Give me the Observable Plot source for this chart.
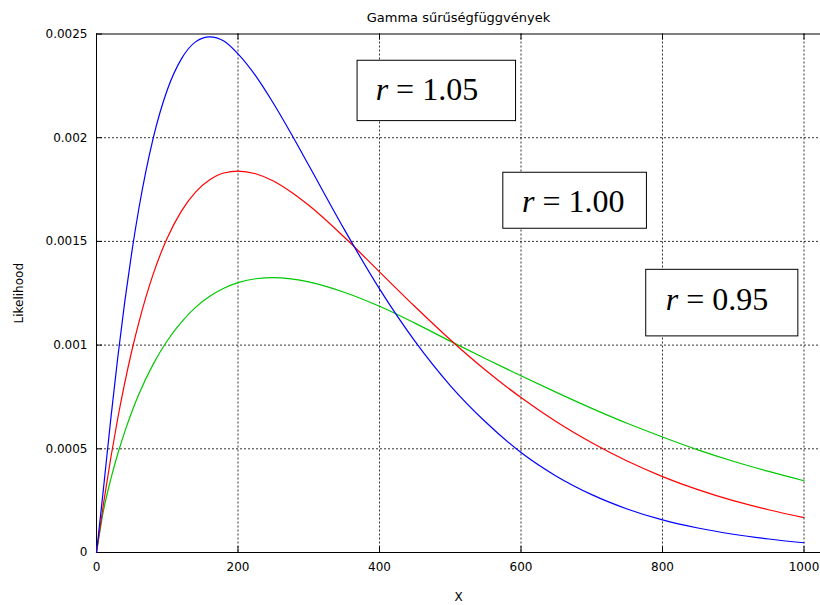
<!DOCTYPE html>
<html>
<head>
<meta charset="utf-8">
<script src="https://cdn.jsdelivr.net/npm/d3@7"></script>
<script src="https://cdn.jsdelivr.net/npm/@observablehq/plot@0.6"></script>
<style>
  html, body { margin: 0; padding: 0; background: #fff; }
  #chart { width: 820px; height: 605px; overflow: hidden; }
</style>
</head>
<body>
<div id="chart"></div>
<script>
// ---------- data ----------
const title = "Gamma sűrűségfüggvények";
const xLabel = "X";
const yLabel = "Likelihood";

const xs = [0, 10, 20, 30, 40, 50, 60, 80, 100, 120, 140, 160, 180, 200, 225, 250, 275, 300,
            350, 400, 450, 500, 550, 600, 650, 700, 750, 800, 850, 900, 950, 1000];

// r = 1.05 (blue)
const blueY = [0, 0.000313, 0.000638, 0.000939, 0.001211, 0.001451, 0.001661, 0.001996, 0.002230,
               0.002380, 0.002462, 0.002486, 0.002466, 0.002404, 0.002298, 0.002166, 0.002020, 0.001867,
               0.001559, 0.001271, 0.001019, 0.000805, 0.000629, 0.000482, 0.000368, 0.000279,
               0.000210, 0.000157, 0.000118, 0.000088, 0.000065, 0.000047];

// r = 1.00 (red)
const redY = [0, 0.000238, 0.000452, 0.000646, 0.000819, 0.000974, 0.001111, 0.001341, 0.001516,
              0.001646, 0.001738, 0.001797, 0.001830, 0.001839, 0.001826, 0.001791, 0.001738, 0.001674,
              0.001521, 0.001353, 0.001186, 0.001026, 0.000879, 0.000747, 0.000630, 0.000529,
              0.000441, 0.000366, 0.000303, 0.000250, 0.000206, 0.000168];

// r = 0.95 (green)
const greenY = [0, 0.000204, 0.000351, 0.000475, 0.000583, 0.000679, 0.000764, 0.000907, 0.001021,
                0.001111, 0.001182, 0.001235, 0.001274, 0.001301, 0.001320, 0.001325, 0.001319, 0.001305,
                0.001255, 0.001187, 0.001106, 0.001019, 0.000934, 0.000852, 0.000772, 0.000695,
                0.000623, 0.000557, 0.000495, 0.000440, 0.000391, 0.000346];

const xTicks = [0, 200, 400, 600, 800, 1000];
const xTickLabels = ["0", "200", "400", "600", "800", "1000"];
const yTicks = [0, 0.0005, 0.001, 0.0015, 0.002, 0.0025];
const yTickLabels = ["0", "0.0005", "0.001", "0.0015", "0.002", "0.0025"];

// annotation boxes (data coordinates)
const boxLabels = ["r = 1.05", "r = 1.00", "r = 0.95"];
const boxX1 = [369, 575, 777];
const boxX2 = [593, 778, 992];
const boxYLo = [0.002080, 0.001561, 0.001042];
const boxYHi = [0.002371, 0.001831, 0.001363];
const labelX = [467, 674, 877];
const labelY = [0.002231, 0.001689, 0.001218];

// ---------- tables built from the arrays ----------
const rows = xs.map((x, i) => ({x, blue: blueY[i], red: redY[i], green: greenY[i]}));
const boxes = boxLabels.map((label, i) => ({
  label, x1: boxX1[i], x2: boxX2[i], ylo: boxYLo[i], yhi: boxYHi[i], tx: labelX[i], ty: labelY[i]
}));

// ---------- layout ----------
const W = 820, H = 605, mL = 96, mT = 33.5, mB = 53, mR = 0;
const frameH = H - mT - mB;
const frameW = W - mL - mR;
const tickLen = 6;
const grid = {stroke: "#000", strokeOpacity: 0.8, strokeDasharray: "2,2", strokeWidth: 1};

const plot = Plot.plot({
  width: W,
  height: H,
  marginLeft: mL,
  marginRight: mR,
  marginTop: mT,
  marginBottom: mB,
  style: {fontFamily: "DejaVu Sans", fontSize: "12px", background: "#fff", color: "#000", overflow: "hidden"},
  x: {domain: [0, 1000], range: [mL, 803.5]},
  y: {domain: [0, 0.0025]},
  marks: [
    // dotted grid
    Plot.ruleX(xTicks.slice(1), {x: d => d, ...grid}),
    Plot.ruleY(yTicks.slice(1, -1), {y: d => d, ...grid}),
    // border (left, bottom, top)
    Plot.ruleX([xTicks[0]], {x: d => d, stroke: "#000", strokeWidth: 1}),
    Plot.ruleY([yTicks[0]], {y: d => d, stroke: "#000", strokeWidth: 1}),
    Plot.ruleY([yTicks[yTicks.length - 1]], {y: d => d, stroke: "#000", strokeWidth: 1}),
    // inward ticks
    Plot.ruleX(xTicks, {x: d => d, insetTop: frameH - tickLen, stroke: "#000"}),
    Plot.ruleX(xTicks, {x: d => d, insetBottom: frameH - tickLen, stroke: "#000"}),
    Plot.ruleY(yTicks, {y: d => d, insetRight: frameW - tickLen, stroke: "#000"}),
    // curves
    Plot.line(rows, {x: "x", y: "green", stroke: "#00c800", strokeWidth: 1.2, curve: "monotone-x"}),
    Plot.line(rows, {x: "x", y: "red", stroke: "#ff0000", strokeWidth: 1.2, curve: "monotone-x"}),
    Plot.line(rows, {x: "x", y: "blue", stroke: "#0000ff", strokeWidth: 1.2, curve: "monotone-x"}),
    // annotation boxes
    Plot.rect(boxes, {x1: "x1", x2: "x2", y1: "ylo", y2: "yhi", fill: "#fff", stroke: "#000", strokeWidth: 1}),
    Plot.text(boxes, {x: "tx", y: "ty", text: "label", fontFamily: "Liberation Serif", fontSize: 32, fill: "#000"}),
    // axes
    Plot.axisX(xTicks, {
      tickSize: 0, tickPadding: 10,
      tickFormat: d => xTickLabels[xTicks.indexOf(d)],
      label: xLabel, labelAnchor: "center", labelOffset: 48, labelArrow: "none"
    }),
    Plot.axisY(yTicks, {
      tickSize: 0, tickPadding: 9,
      tickFormat: d => yTickLabels[yTicks.indexOf(d)],
      label: yLabel, labelAnchor: "center", labelOffset: 82, labelArrow: "none"
    }),
    // title
    Plot.text([title], {frameAnchor: "top", dy: -21.5, fontSize: 13, fill: "#000"})
  ]
});

// italic "r" in the annotation labels
d3.select(plot).selectAll("text").each(function() {
  const t = this.textContent;
  if (/^r = /.test(t) && this.childElementCount === 0) {
    this.textContent = "";
    const sel = d3.select(this);
    sel.append("tspan").attr("font-style", "italic").text("r");
    sel.append("tspan").text(t.slice(1));
  }
});

document.getElementById("chart").appendChild(plot);
</script>
</body>
</html>
